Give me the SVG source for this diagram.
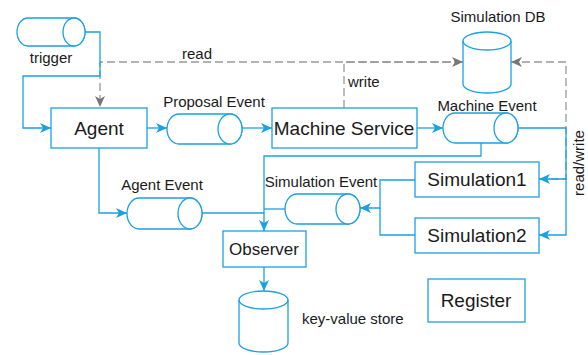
<svg xmlns="http://www.w3.org/2000/svg" width="588" height="355" viewBox="0 0 588 355">
<defs>
<style>
.s{fill:#fff;stroke:#1ba1e2;stroke-width:1.3}
.e{fill:none;stroke:#1ba1e2;stroke-width:1.3}
.d{fill:none;stroke:#999;stroke-width:1.3;stroke-dasharray:8 4}
text{font-family:"Liberation Sans",Arial,sans-serif;fill:#1a1a1a}
.b{font-size:19px;text-anchor:middle}
.l{font-size:15px;text-anchor:middle}
</style>
<marker id="ab" markerUnits="userSpaceOnUse" markerWidth="12" markerHeight="10" refX="11" refY="5" orient="auto"><path d="M0,0 L11,5 L0,10 L3,5 Z" fill="#1ba1e2"/></marker>
<marker id="ag" markerUnits="userSpaceOnUse" markerWidth="12" markerHeight="10" refX="11" refY="5" orient="auto"><path d="M0,0 L11,5 L0,10 L3,5 Z" fill="#777"/></marker>
</defs>
<g id="connectors">
<path class="d" d="M463,62 H100 V107" marker-end="url(#ag)"/>
<path class="d" d="M344,108 V62 H463" marker-end="url(#ag)"/>
<path class="d" d="M539,179 H566 V62 H511" marker-end="url(#ag)"/>
<path class="e" d="M85,32 H100 V76 H23 V128 H51" marker-end="url(#ab)"/>
<path class="e" d="M147,128 H167" marker-end="url(#ab)"/>
<path class="e" d="M242,128 H272" marker-end="url(#ab)"/>
<path class="e" d="M417,128 H443" marker-end="url(#ab)"/>
<path class="e" d="M518,128 H566 V179 H539" marker-end="url(#ab)"/>
<path class="e" d="M566,179 V235 H539" marker-end="url(#ab)"/>
<path class="e" d="M481,143 V156 H264 V231" marker-end="url(#ab)"/>
<path class="e" d="M99,148 V213 H127" marker-end="url(#ab)"/>
<path class="e" d="M202,213 H264"/>
<path class="e" d="M415,180 H380 V208 H360" marker-end="url(#ab)"/>
<path class="e" d="M415,235 H380 V208"/>
<path class="e" d="M285,209 H264"/>
<path class="e" d="M264,267 V291" marker-end="url(#ab)"/>
<text class="l" x="197" y="59">read</text>
<text x="348" y="87" style="font-size:15px">write</text>
<text class="l" transform="translate(584,163) rotate(-90)">read/write</text>
</g>
<g id="trigger">
<path class="s" d="M28,18 H74 A11,14 0 0 1 74,46 H28 A11,14 0 0 1 28,18 Z"/>
<ellipse class="s" cx="74" cy="32" rx="11" ry="14"/>
<text class="l" x="51" y="63">trigger</text>
</g>
<g id="agent">
<rect class="s" x="51" y="108" width="96" height="40"/>
<text class="b" x="99" y="135">Agent</text>
</g>
<g id="proposal-event">
<path class="s" d="M179,114 H230 A12,15 0 0 1 230,144 H179 A12,15 0 0 1 179,114 Z"/>
<ellipse class="s" cx="230" cy="129" rx="12" ry="15"/>
<text class="l" x="214" y="107">Proposal Event</text>
</g>
<g id="machine-service">
<rect class="s" x="272" y="108" width="145" height="40"/>
<text class="b" x="344" y="135">Machine Service</text>
</g>
<g id="machine-event">
<path class="s" d="M455,113 H506 A12,15 0 0 1 506,143 H455 A12,15 0 0 1 455,113 Z"/>
<ellipse class="s" cx="506" cy="128" rx="12" ry="15"/>
<text class="l" x="487" y="111">Machine Event</text>
</g>
<g id="simulation-db">
<path class="s" d="M463,41 A24,9 0 0 1 511,41 V84 A24,9 0 0 1 463,84 Z"/>
<path class="e" d="M463,41 A24,9 0 0 0 511,41"/>
<text class="l" x="498" y="22">Simulation DB</text>
</g>
<g id="simulation1">
<rect class="s" x="415" y="162" width="124" height="35"/>
<text class="b" x="477" y="186">Simulation1</text>
</g>
<g id="simulation2">
<rect class="s" x="415" y="218" width="124" height="35"/>
<text class="b" x="477" y="242">Simulation2</text>
</g>
<g id="simulation-event">
<path class="s" d="M297,194 H348 A12,15 0 0 1 348,224 H297 A12,15 0 0 1 297,194 Z"/>
<ellipse class="s" cx="348" cy="209" rx="12" ry="15"/>
<text class="l" x="321" y="187">Simulation Event</text>
</g>
<g id="agent-event">
<path class="s" d="M139,198 H190 A12,15.5 0 0 1 190,229 H139 A12,15.5 0 0 1 139,198 Z"/>
<ellipse class="s" cx="190" cy="213.5" rx="12" ry="15.5"/>
<text class="l" x="162" y="190">Agent Event</text>
</g>
<g id="observer">
<rect class="s" x="223" y="231" width="83" height="36"/>
<text x="264" y="255" style="font-size:17px;text-anchor:middle">Observer</text>
</g>
<g id="key-value-store">
<path class="s" d="M239,300 A24.5,9 0 0 1 288,300 V343 A24.5,9 0 0 1 239,343 Z"/>
<path class="e" d="M239,300 A24.5,9 0 0 0 288,300"/>
<text x="302" y="324" style="font-size:15px">key-value store</text>
</g>
<g id="register">
<rect class="s" x="428" y="279" width="97" height="43"/>
<text class="b" x="476" y="307">Register</text>
</g>
</svg>
